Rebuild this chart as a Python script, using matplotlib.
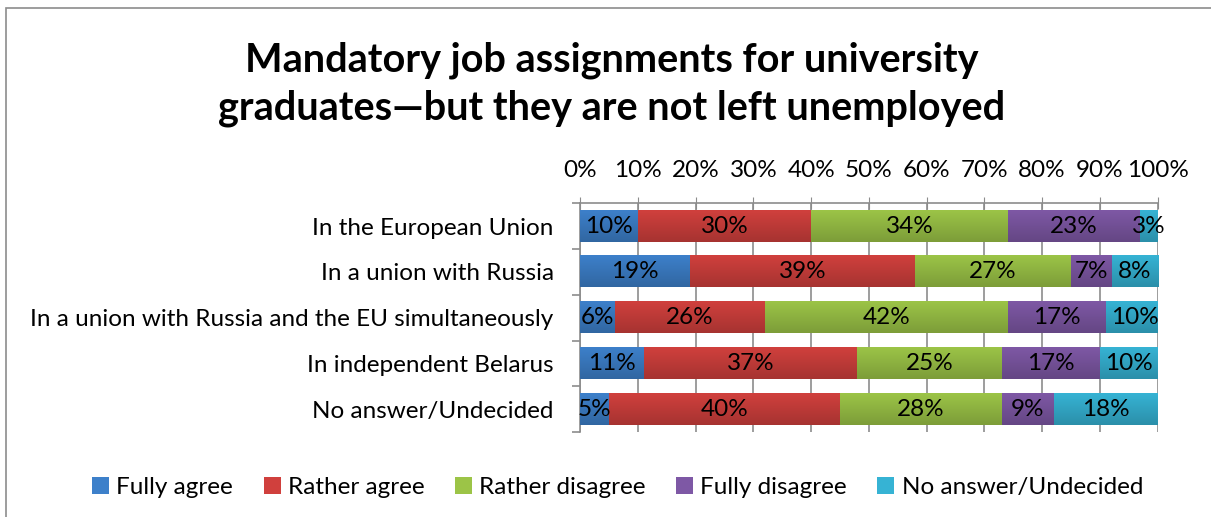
import numpy as np
import matplotlib.pyplot as plt
from matplotlib.colors import LinearSegmentedColormap, to_rgb
from matplotlib.ticker import FixedLocator, PercentFormatter

# survey answers per scenario, in percent
categories = ["In the European Union",
              "In a union with Russia",
              "In a union with Russia and the EU simultaneously",
              "In independent Belarus",
              "No answer/Undecided"]
series_names = ["Fully agree", "Rather agree", "Rather disagree",
                "Fully disagree", "No answer/Undecided"]
fully_agree = [10, 19, 6, 11, 5]
rather_agree = [30, 39, 26, 37, 40]
rather_disagree = [34, 27, 42, 25, 28]
fully_disagree = [23, 7, 17, 17, 9]
no_answer = [3, 8, 10, 10, 18]

series = [fully_agree, rather_agree, rather_disagree, fully_disagree, no_answer]
colors = ["#3D80CA", "#D0403D", "#9CC447", "#7E58A5", "#36B3D4"]

plt.rcParams['font.family'] = ['Lato', 'DejaVu Sans']
FS = 17.5

fig = plt.figure(figsize=(12.11, 5.17), dpi=100)
ax = fig.add_axes([0.479, 0.164, 0.477, 0.443])

# outer chart frame
fig.patches.append(plt.Rectangle((6 / 1211, -0.05), 1.2, (517 - 8) / 517 + 0.05,
                                 transform=fig.transFigure, fill=False,
                                 edgecolor="#8C8C8C", linewidth=1.2))

bar_h = 0.68
grad = np.linspace(0, 1, 64).reshape(-1, 1)
y = np.arange(len(categories))
left = np.zeros(len(categories))
for name, vals, col in zip(series_names, series, colors):
    vals = np.array(vals, dtype=float)
    ax.barh(y, vals / 100, left=left / 100, height=bar_h, color=col,
            label=name, zorder=3)
    # vertical shading, lighter on top and darker at the bottom
    base = np.array(to_rgb(col))
    cmap = LinearSegmentedColormap.from_list(name, [base, base * 0.8])
    for yi, l, v in zip(y, left, vals):
        x0, x1 = l / 100, min((l + v) / 100, 1.0)
        ax.imshow(grad, cmap=cmap, aspect="auto", zorder=3.5,
                  extent=[x0, x1, yi + bar_h / 2, yi - bar_h / 2])
        ax.text((l + v / 2) / 100, yi, f"{int(v)}%", ha="center", va="center",
                fontsize=FS, color="black", zorder=4)
    left += vals

ax.set_xlim(0, 1)
ax.set_ylim(len(categories) - 0.5, -0.5)
ax.xaxis.set_major_locator(FixedLocator(np.arange(0, 1.01, 0.1)))
ax.xaxis.set_major_formatter(PercentFormatter(1.0, decimals=0))
ax.xaxis.tick_top()
ax.tick_params(axis="x", which="major", labelsize=FS, length=8,
               direction="inout", color="#8C8C8C", pad=12)
ax.grid(axis="x", color="#8C8C8C", linewidth=1.2, zorder=0)

ax.set_yticks(y)
ax.set_yticklabels(categories)
ax.yaxis.set_minor_locator(FixedLocator(np.arange(-0.5, len(categories), 1)))
ax.tick_params(axis="y", which="major", length=0, labelsize=FS, pad=19)
ax.tick_params(axis="y", which="minor", length=6, color="#8C8C8C", width=1.2)

for side in ["right", "bottom"]:
    ax.spines[side].set_visible(False)
for side in ["top", "left"]:
    ax.spines[side].set_color("#8C8C8C")
    ax.spines[side].set_linewidth(1.2)

fig.text(0.505, 0.837, "Mandatory job assignments for university\ngraduates\u2014but they are not left unemployed",
         ha="center", va="center", fontsize=28.5, fontweight="bold",
         linespacing=1.32)

fig.legend(loc="center", bbox_to_anchor=(0.51, 0.058), ncol=5, frameon=False,
           fontsize=FS, handlelength=0.7, handleheight=0.7,
           handletextpad=0.3, columnspacing=1.25)

fig.savefig("out.png", dpi=100)
